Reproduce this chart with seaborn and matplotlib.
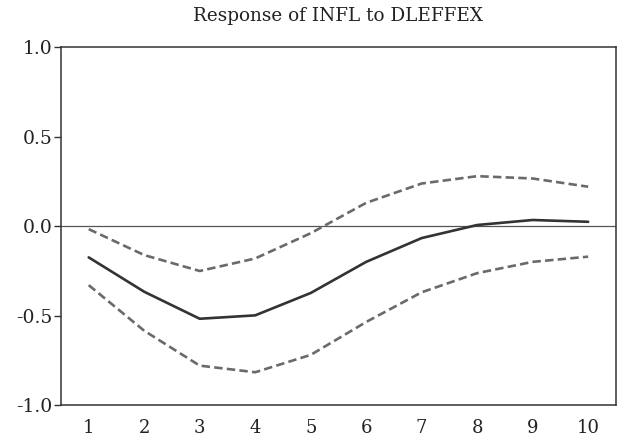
import numpy as np
import pandas as pd
import matplotlib
matplotlib.use("Agg")
import matplotlib.pyplot as plt
import seaborn as sns

# Impulse response of INFL to a DLEFFEX shock, with +/- 2 S.E. bands
periods = [1, 2, 3, 4, 5, 6, 7, 8, 9, 10]
response = [-0.175, -0.367, -0.518, -0.499, -0.374, -0.200, -0.067, 0.006, 0.034, 0.024]
upper_band = [-0.017, -0.162, -0.251, -0.181, -0.040, 0.130, 0.238, 0.279, 0.266, 0.220]
lower_band = [-0.330, -0.585, -0.780, -0.817, -0.720, -0.536, -0.370, -0.263, -0.200, -0.171]
y_ticks = [-1.0, -0.5, 0.0, 0.5, 1.0]
y_tick_labels = ["-1.0", "-0.5", "0.0", "0.5", "1.0"]
title = "Response of INFL to DLEFFEX"

df = pd.DataFrame({
    "period": periods * 3,
    "value": response + upper_band + lower_band,
    "series": ["response"] * 10 + ["upper"] * 10 + ["lower"] * 10,
})

sns.set_style("white")
plt.rcParams["font.family"] = ["DejaVu Serif"]

fig = plt.figure(figsize=(6.19, 4.45), dpi=100)
ax = fig.add_axes([0.0985, 0.0899, 0.8965, 0.8041])

ax.axhline(0.0, color="#555555", linewidth=0.9, zorder=1)

sns.lineplot(
    data=df, x="period", y="value", hue="series", style="series",
    palette={"response": "#333333", "upper": "#6a6a6a", "lower": "#6a6a6a"},
    dashes={"response": "", "upper": (3.2, 1.6), "lower": (3.2, 1.6)},
    linewidth=1.9, legend=False, ax=ax, zorder=3,
)

ax.set_xlim(0.5, 10.5)
ax.set_ylim(-1.0, 1.0)
ax.set_xticks(periods)
ax.set_xticklabels([str(p) for p in periods])
ax.set_xticks(np.arange(0.5, 11.0, 1.0), minor=True)
ax.tick_params(axis="x", which="major", length=0, pad=10, labelsize=13, colors="#222222")
ax.tick_params(axis="x", which="minor", length=7, width=1.0, direction="out", color="#333333")
ax.set_yticks(y_ticks)
ax.set_yticklabels(y_tick_labels)
ax.tick_params(axis="y", length=5, width=1.0, direction="out", pad=1,
               labelsize=13.5, colors="#222222", left=True)
ax.tick_params(axis="y", color="#333333")
ax.set_xlabel("")
ax.set_ylabel("")

for side in ["left", "right", "top", "bottom"]:
    ax.spines[side].set_visible(True)
    ax.spines[side].set_color("#333333")
    ax.spines[side].set_linewidth(1.1)

ax.set_title(title, fontsize=13.2, color="#222222", pad=19)

fig.savefig("out.png", dpi=100)
